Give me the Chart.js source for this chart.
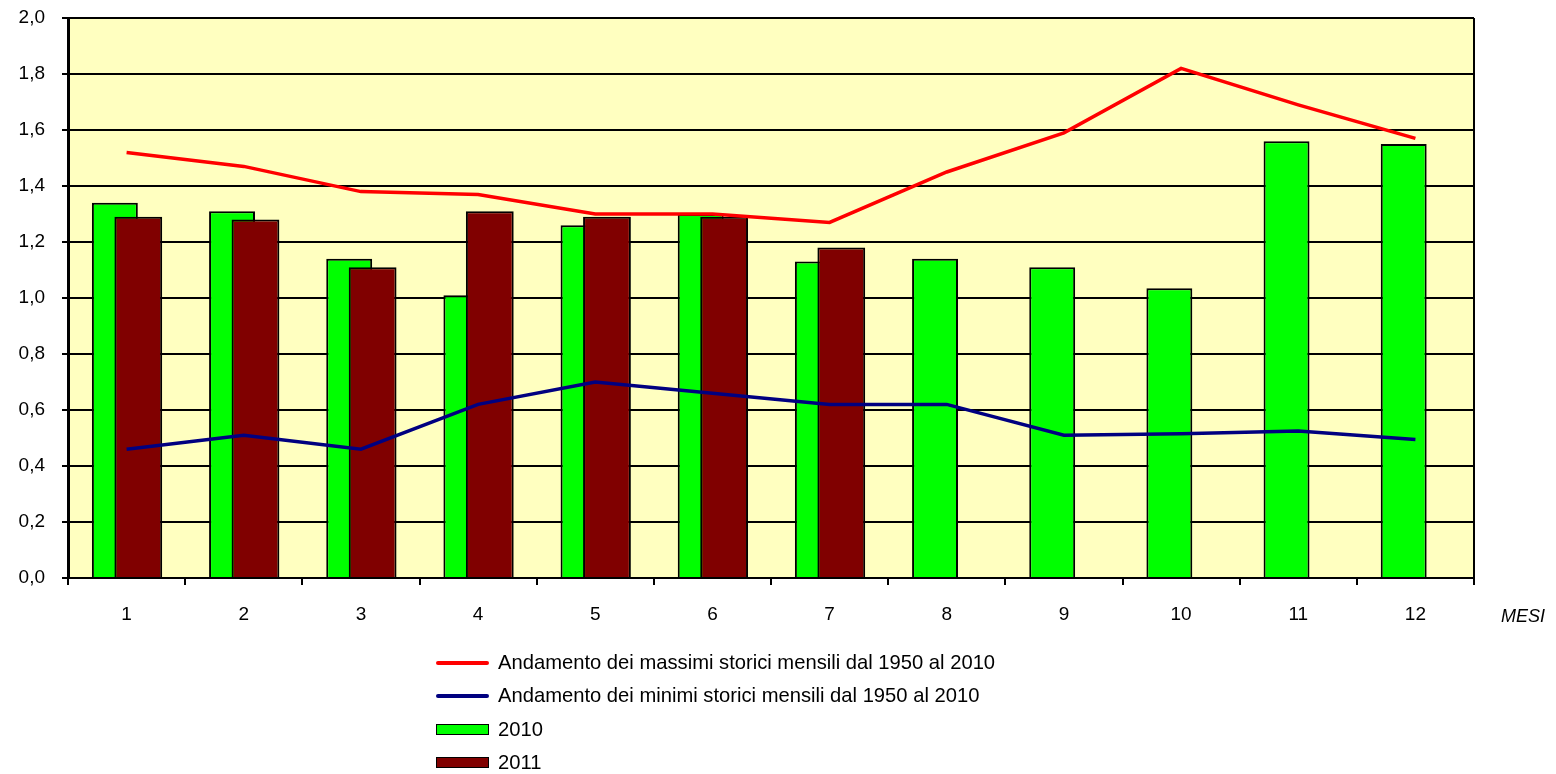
<!DOCTYPE html>
<html>
<head>
<meta charset="utf-8">
<script src="https://cdn.jsdelivr.net/npm/chart.js@4.4.1/dist/chart.umd.min.js"></script>
<style>
  html, body { margin: 0; padding: 0; background: #ffffff; }
  #wrap { position: relative; width: 1556px; height: 774px; font-family: "Liberation Sans", Arial, sans-serif; color: #000; }
  #chart { position: absolute; left: 0; top: 0; }
  #xtitle { position: absolute; left: 1501px; top: 605px; font-style: italic; font-size: 18px; line-height: 22px; }
  #legend { position: absolute; left: 436px; top: 646px; }
  .row { height: 33.3px; display: flex; align-items: center; font-size: 20.2px; white-space: nowrap; }
  .sw { width: 53px; margin-right: 9px; box-sizing: border-box; flex: none; }
</style>
</head>
<body>
<div id="wrap">
  <canvas id="chart" width="1556" height="774"></canvas>
  <div id="xtitle">MESI</div>
  <div id="legend"></div>
</div>
<script>
// ---- data ----
const months = ['1', '2', '3', '4', '5', '6', '7', '8', '9', '10', '11', '12'];
const seriesNames = [
  'Andamento dei massimi storici mensili dal 1950 al 2010',
  'Andamento dei minimi storici mensili dal 1950 al 2010',
  '2010',
  '2011'
];
const maxStorici = [1.52, 1.47, 1.38, 1.37, 1.30, 1.30, 1.27, 1.45, 1.59, 1.82, 1.69, 1.57];
const minStorici = [0.46, 0.51, 0.46, 0.62, 0.70, 0.66, 0.62, 0.62, 0.51, 0.515, 0.525, 0.495];
const values2010 = [1.34, 1.31, 1.14, 1.01, 1.26, 1.30, 1.13, 1.14, 1.11, 1.035, 1.56, 1.55];
const values2011 = [1.29, 1.28, 1.11, 1.31, 1.29, 1.29, 1.18, null, null, null, null, null];
const yTicks = ['0,0', '0,2', '0,4', '0,6', '0,8', '1,0', '1,2', '1,4', '1,6', '1,8', '2,0'];

// ---- styles ----
const colors = ['#ff0000', '#000080', '#00ff00', '#800000'];
const FONT = '"Liberation Sans", Arial, sans-serif';

const plotBg = {
  id: 'plotBg',
  beforeDraw(chart) {
    const { ctx, chartArea: a } = chart;
    ctx.save();
    ctx.fillStyle = '#ffffc0';
    ctx.fillRect(a.left, a.top, a.right - a.left, a.bottom - a.top);
    ctx.restore();
  },
  beforeDatasetsDraw(chart) {
    const { ctx, chartArea: a } = chart;
    ctx.save();
    ctx.strokeStyle = '#000';
    ctx.lineWidth = 2;
    ctx.beginPath();
    ctx.moveTo(a.right, a.top);
    ctx.lineTo(a.right, a.bottom + 7);
    ctx.stroke();
    ctx.restore();
  }
};

// draw the 2011 bars right after the 2010 bars so they sit on top of them
const barOrder = {
  id: 'barOrder',
  beforeDatasetDraw(chart, args) {
    if (args.index === 3) return false;
  },
  afterDatasetDraw(chart, args) {
    if (args.index === 2) {
      chart.getDatasetMeta(3).controller.draw();
    }
  }
};

const chart = new Chart(document.getElementById('chart'), {
  type: 'bar',
  data: {
    labels: months,
    datasets: [
      { type: 'line', label: seriesNames[0], data: maxStorici, borderColor: colors[0], borderWidth: 3.5,
        pointRadius: 0, tension: 0, fill: false },
      { type: 'line', label: seriesNames[1], data: minStorici, borderColor: colors[1], borderWidth: 3.5,
        pointRadius: 0, tension: 0, fill: false },
      { type: 'bar', label: seriesNames[2], data: values2010, backgroundColor: colors[2], borderColor: '#000',
        borderWidth: 2, categoryPercentage: 0.4, barPercentage: 1.96 },
      { type: 'bar', label: seriesNames[3], data: values2011, backgroundColor: colors[3], borderColor: '#000',
        borderWidth: 2, categoryPercentage: 0.4, barPercentage: 2.04 }
    ]
  },
  options: {
    responsive: false,
    animation: false,
    devicePixelRatio: 1,
    layout: { padding: { top: 18, right: 82, left: 0, bottom: 0 } },
    plugins: { legend: { display: false }, tooltip: { enabled: false } },
    scales: {
      x: {
        offset: true,
        grid: { offset: true, drawOnChartArea: false, color: '#000', lineWidth: 2, tickLength: 7 },
        border: { display: true, color: '#000', width: 2 },
        ticks: { color: '#000', font: { family: FONT, size: 19 }, padding: 18, maxRotation: 0 },
        afterFit(scale) { scale.height = 196; }
      },
      y: {
        min: 0, max: 2,
        grid: { color: '#000', lineWidth: 2, tickLength: 6 },
        border: { display: true, color: '#000', width: 3 },
        ticks: {
          stepSize: 0.2, color: '#000', font: { family: FONT, size: 19 }, padding: 17,
          callback: (v, i) => yTicks[i]
        },
        afterFit(scale) { scale.width = 68; scale.paddingTop = 0; scale.paddingBottom = 0; }
      }
    }
  },
  plugins: [plotBg, barOrder]
});

// ---- legend ----
const legend = document.getElementById('legend');
seriesNames.forEach((name, i) => {
  const row = document.createElement('div');
  row.className = 'row';
  const sw = document.createElement('div');
  sw.className = 'sw';
  if (i < 2) {
    sw.style.height = '4px';
    sw.style.background = colors[i];
    sw.style.borderRadius = '2px';
  } else {
    sw.style.height = '11px';
    sw.style.background = colors[i];
    sw.style.border = '1.5px solid #000';
  }
  const tx = document.createElement('span');
  tx.textContent = name;
  row.appendChild(sw);
  row.appendChild(tx);
  legend.appendChild(row);
});
</script>
</body>
</html>
